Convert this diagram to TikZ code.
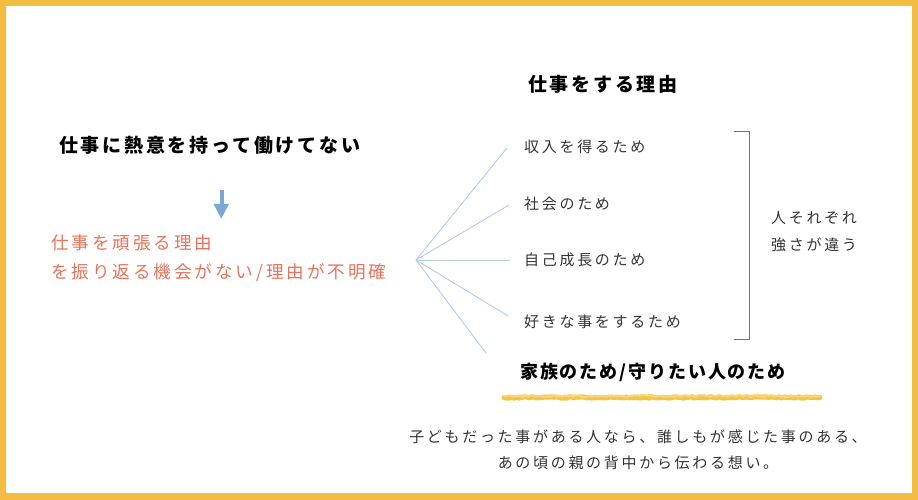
\documentclass[tikz,border=0pt]{standalone}
\usepackage{fontspec}
\usetikzlibrary{decorations.pathmorphing}
\newfontfamily\jpA[LetterSpace=14.5]{Noto Sans CJK JP}
\newfontfamily\jpB[LetterSpace=18]{Noto Sans CJK JP}
\newfontfamily\jpR[LetterSpace=16.5]{Noto Sans CJK JP}
\newfontfamily\jpC[LetterSpace=10.5]{Noto Sans CJK JP}
\definecolor{frameY}{HTML}{F2BD42}
\definecolor{redT}{HTML}{E8735A}
\definecolor{fanB}{HTML}{B7CBE3}
\definecolor{brkB}{HTML}{5877A3}
\definecolor{arrB}{HTML}{7BA7D8}
\definecolor{scrY}{HTML}{F5C542}
\definecolor{itemT}{HTML}{333333}
\tikzset{
  headtxt/.style={inner sep=0pt, anchor=west, text=black, font=\jpA\bfseries\fontsize{19bp}{22bp}\selectfont},
  redtxt/.style={inner sep=0pt, anchor=west, text=redT, align=left, font=\jpR\fontsize{17.6bp}{29bp}\selectfont},
  itemtxt/.style={inner sep=0pt, anchor=west, text=itemT, font=\jpB\fontsize{15bp}{18bp}\selectfont},
  sidetxt/.style={inner sep=0pt, anchor=west, text=itemT, align=left, font=\jpB\fontsize{15bp}{27bp}\selectfont},
  boldtxt/.style={inner sep=0pt, anchor=west, text=black, font=\jpC\bfseries\fontsize{18bp}{21bp}\selectfont},
  bottxt/.style={inner sep=0pt, text=itemT, align=center, font=\jpB\fontsize{15bp}{26bp}\selectfont},
  fan/.style={draw=fanB, line width=0.9bp},
}
\begin{document}
\begin{tikzpicture}[x=1bp,y=-1bp]
\useasboundingbox (0,0) rectangle (918,500);
% frame
\fill[frameY, even odd rule] (0,0) rectangle (918,500) (6,6) rectangle (912,493);
% left side
\node[headtxt] (t1) at (59,145) {仕事に熱意を持って働けてない};
\fill[arrB] (219.5,190) rectangle (223.5,205);
\fill[arrB] (213.5,204) -- (229,204) -- (221.3,218.5) -- cycle;
\node[redtxt] (t2) at (51,258.5) {仕事を頑張る理由\\を振り返る機会がない/理由が不明確};
% right side
\node[headtxt] (t3) at (528,84) {仕事をする理由};
\coordinate (hub) at (416,260);
\node[itemtxt] (i1) at (524,147) {収入を得るため};
\node[itemtxt] (i2) at (524,204) {社会のため};
\node[itemtxt] (i3) at (524,260) {自己成長のため};
\node[itemtxt] (i4) at (524,322) {好きな事をするため};
\coordinate (e1) at (507,148);
\coordinate (e2) at (509,205);
\coordinate (e3) at (510,260);
\coordinate (e4) at (508,316);
\coordinate (e5) at (486,353);
\foreach \e in {e1,e2,e3,e4,e5} \draw[fan] (hub) -- (\e);
\draw[brkB, line width=1bp] (734,132) -- (749,132) -- (749,339) -- (734,339);
\node[sidetxt] (s1) at (771,231.5) {人それぞれ\\強さが違う};
\node[boldtxt] (t4) at (520,372) {家族のため/守りたい人のため};
\draw[scrY, line width=5bp, line cap=round, decorate, decoration={random steps, segment length=2.5bp, amplitude=0.7bp}] (504,397.5) -- (820,397.5);
\draw[scrY!70, line width=2bp, line cap=round, decorate, decoration={random steps, segment length=2bp, amplitude=1bp}] (504,396) -- (820,396);
\node[bottxt] (b1) at (638,450) {子どもだった事がある人なら、誰しもが感じた事のある、\\あの頃の親の背中から伝わる想い。};
\end{tikzpicture}
\end{document}
